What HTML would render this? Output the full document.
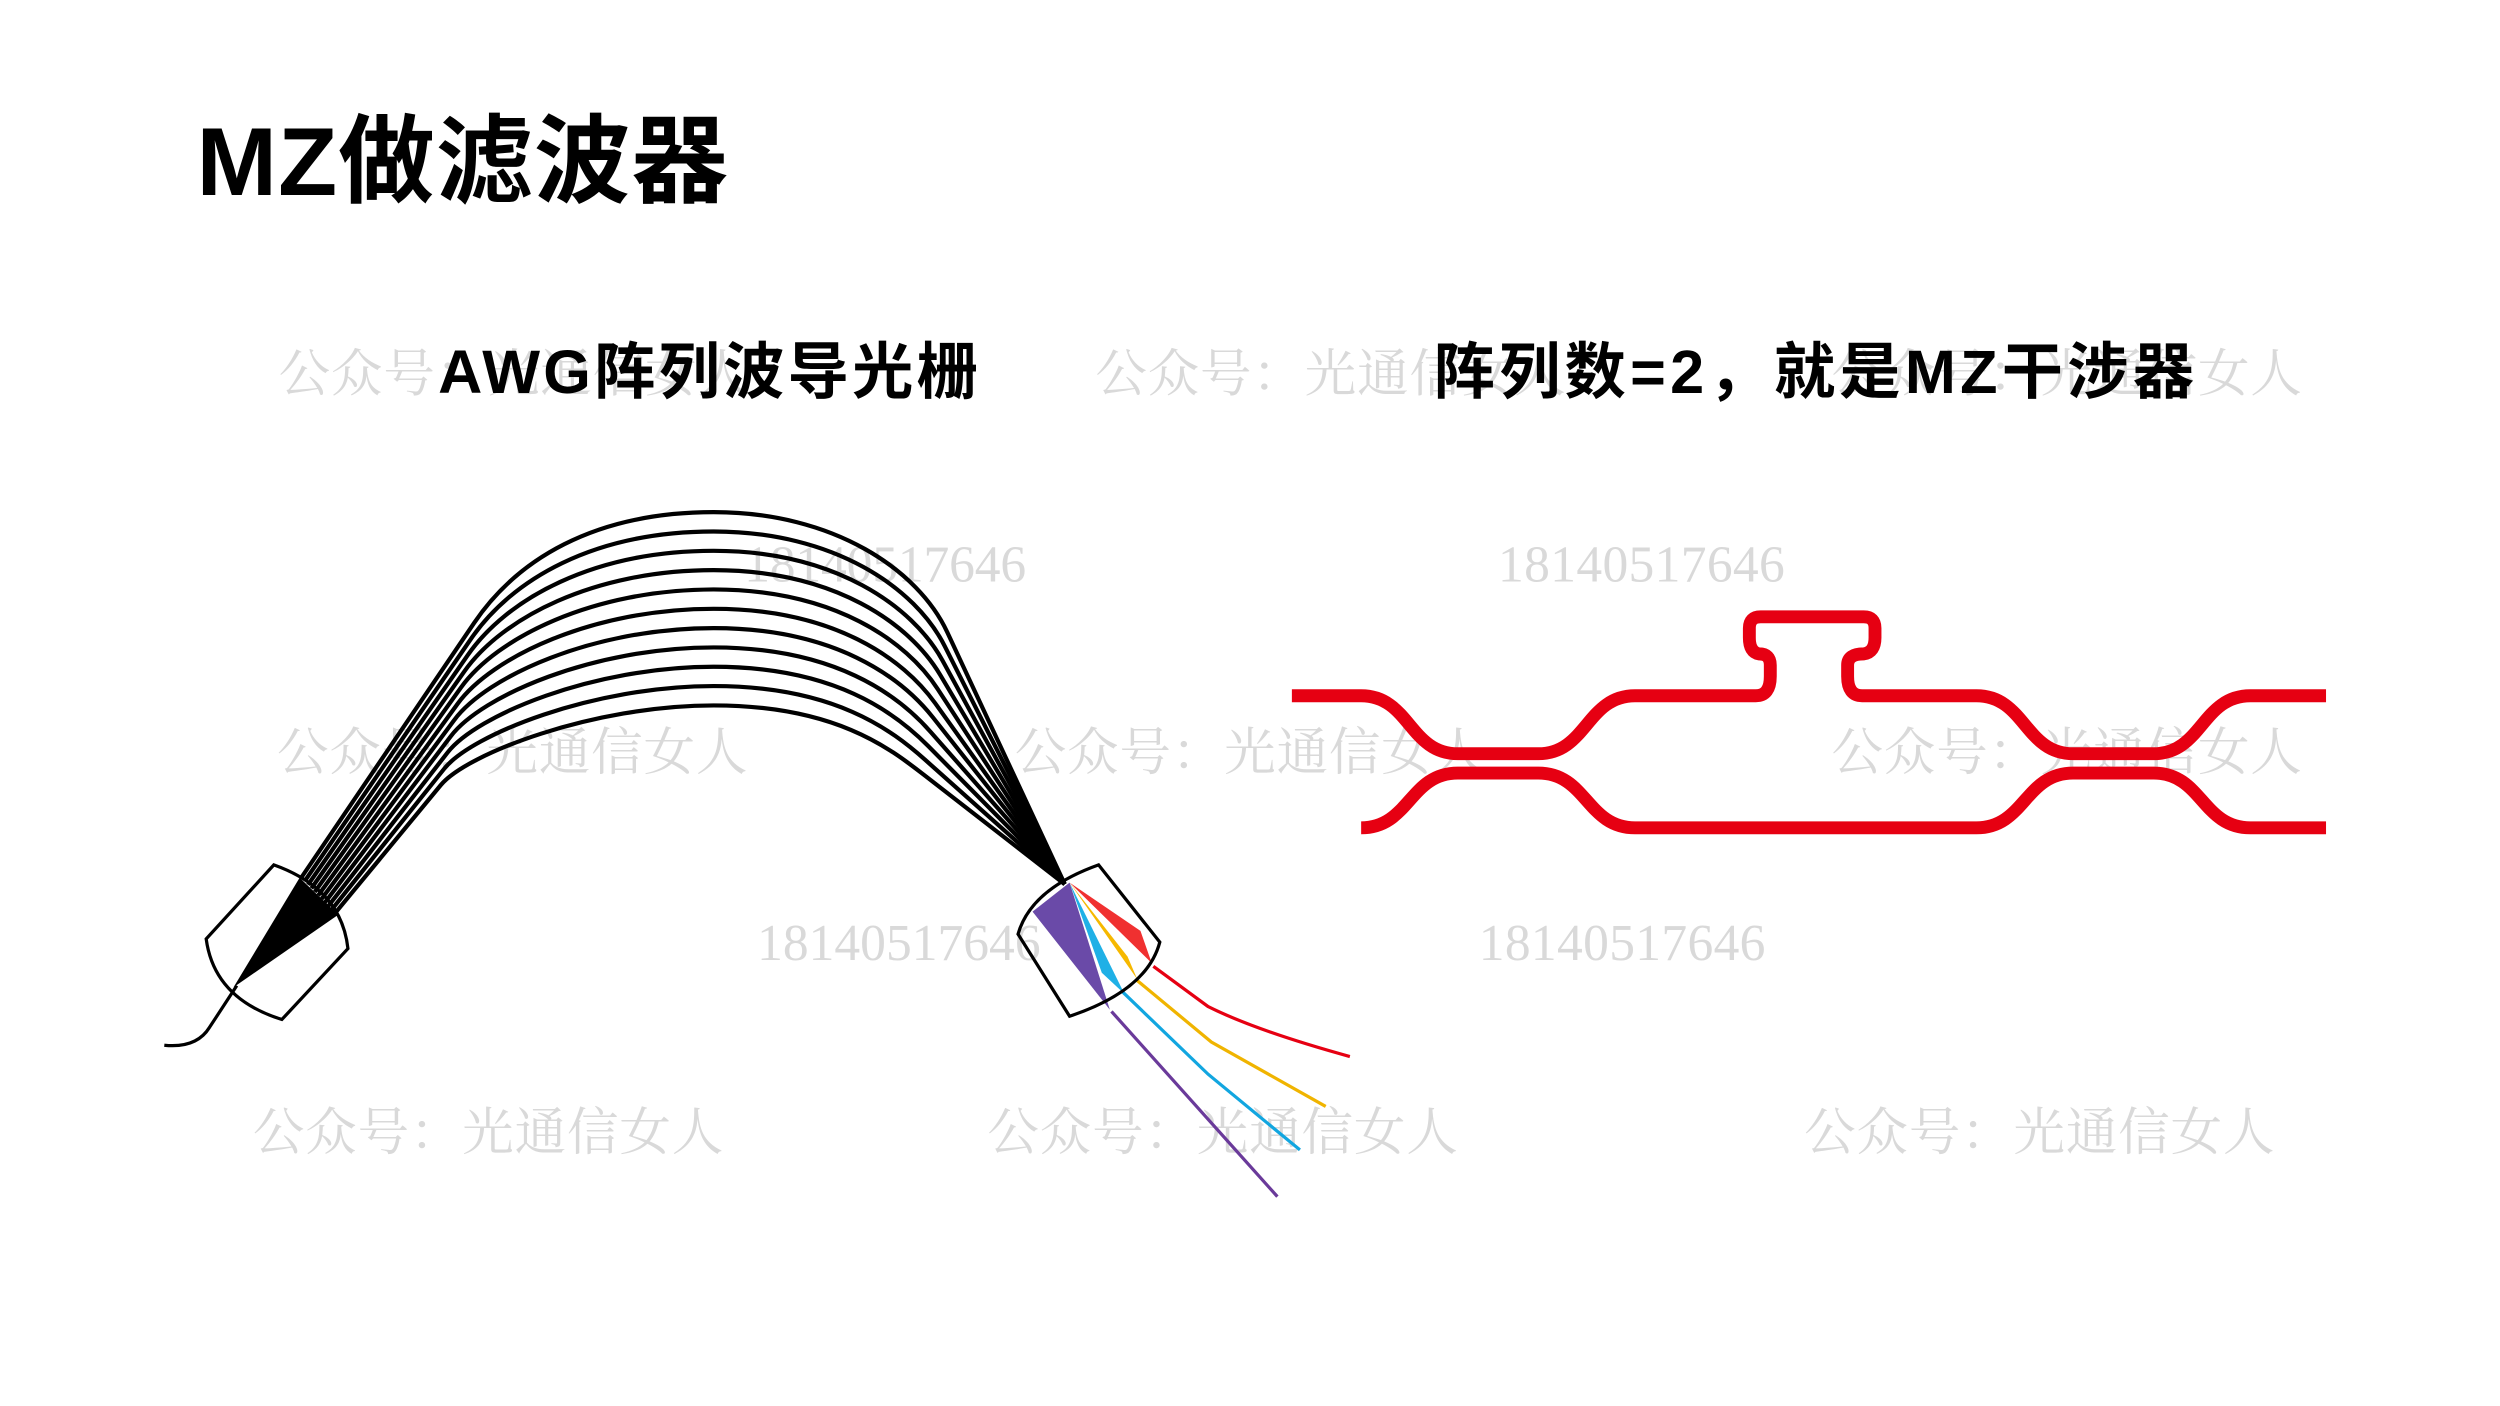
<!DOCTYPE html>
<html><head><meta charset="utf-8"><style>
html,body{margin:0;padding:0;background:#fff;}
svg{display:block;}
.wm{fill:#d9d9d9;font-family:"Liberation Serif","Noto Serif CJK SC",serif;font-size:32px;}
</style></head><body>
<svg id="s" width="2500" height="1406" viewBox="0 0 1552 873" preserveAspectRatio="none" xmlns="http://www.w3.org/2000/svg">
<rect width="1552" height="873" fill="#fff"/>
<g class="wm">
<text x="173" y="243" textLength="292">公众号：光通信女人</text>
<text x="680" y="243" textLength="292">公众号：光通信女人</text>
<text x="1137" y="243" textLength="292">公众号：光通信女人</text>
<text x="172" y="478" textLength="292">公众号：光通信女人</text>
<text x="630" y="478" textLength="292">公众号：光通信女人</text>
<text x="1137" y="478" textLength="292">公众号：光通信女人</text>
<text x="157" y="714" textLength="292">公众号：光通信女人</text>
<text x="613" y="714" textLength="292">公众号：光通信女人</text>
<text x="1120" y="714" textLength="292">公众号：光通信女人</text>
<text x="462" y="361" textLength="175">18140517646</text>
<text x="930" y="361" textLength="178">18140517646</text>
<text x="470" y="596" textLength="176">18140517646</text>
<text x="918" y="596" textLength="178">18140517646</text>
</g>
<text x="122" y="121" font-family="Liberation Sans,'Noto Sans CJK SC',sans-serif" font-weight="bold" font-size="60" textLength="330" fill="#000">MZ做滤波器</text>
<text x="272" y="244" font-family="Liberation Sans,'Noto Sans CJK SC',sans-serif" font-weight="bold" font-size="38" textLength="335" fill="#000">AWG阵列波导光栅</text>
<text x="890" y="244" font-family="Liberation Sans,'Noto Sans CJK SC',sans-serif" font-weight="bold" font-size="38" textLength="472" fill="#000">阵列数=2，就是MZ干涉器</text>

<!-- MZ -->
<g fill="none" stroke="#e60012" stroke-width="8">
<path d="M802 432 H845 C875 432 875 468 905 468 H955 C985 468 985 432 1015 432 H1090 Q1099 432 1099 420 V413 Q1099 406 1092 406 Q1086 405 1086 396 V390 Q1086 383 1093 383 H1157 Q1164 383 1164 390 V396 Q1164 405 1157 406 Q1147 406 1147 413 V420 Q1147 432 1156 432 H1227 C1257 432 1257 468 1287 468 H1337 C1367 468 1367 432 1397 432 H1444"/>
<path d="M845 514 C875 514 875 480 905 480 H955 C985 480 985 514 1015 514 H1227 C1257 514 1257 480 1287 480 H1337 C1367 480 1367 514 1397 514 H1444"/>
</g>

<!-- AWG -->
<g id="arcs" fill="none" stroke="#000" stroke-width="2.6"></g>
<polygon points="145,613 186,545 210,568" fill="#000"/>
<path d="M147 612 L130 638 Q122 651 102 649" fill="none" stroke="#000" stroke-width="2"/>
<path d="M170 537 L128 583 Q133 620 175 633 L216 589 Q212 552 170 537 Z" fill="none" stroke="#000" stroke-width="2"/>
<!-- right fan -->
<polygon points="664,548 708,578 715,598" fill="#f03030"/>
<polygon points="664,548 700,594 706,608" fill="#f6b800"/>
<polygon points="664,548 684,604 698,617" fill="#1fb0e6"/>
<polygon points="664,548 641,566 689,627" fill="#6a4aa8"/>
<g fill="none" stroke-width="2">
<path d="M716 600 L750 625 Q780 640 838 656" stroke="#e60012"/>
<path d="M705 608 L752 647 L823 687" stroke="#f0b400"/>
<path d="M697 616 L750 667 L807 714" stroke="#12a6e0"/>
<path d="M690 628 L793 743" stroke="#6a3a9a"/>
</g>
<path d="M632 580 Q640 552 682 537 L720 585 Q712 615 664 631 Z" fill="none" stroke="#000" stroke-width="2"/>
</svg>
<script>
var g=document.getElementById('arcs'),s='';
function lerp(p,q,k){return [p[0]+(q[0]-p[0])*k,p[1]+(q[1]-p[1])*k];}
function f(p){return p[0].toFixed(1)+' '+p[1].toFixed(1);}
for(var i=0;i<11;i++){var t=i/10;
var P0=[187+21*t,545+22*t],A=[318-30*t,352+118*t],T=[443,318+120*t],B=[572-18*t,358+108*t],E=[661,549];
var a1=lerp(P0,A,0.82),b1=lerp(E,B,0.82);
var c1=lerp(P0,A,1.02),c2=[T[0]-75,T[1]];
var d1=[T[0]+75,T[1]],d2=lerp(E,B,1.02);
s+='<path d="M'+f(P0)+' L'+f(a1)+' C'+f(c1)+' '+f(c2)+' '+f(T)+' C'+f(d1)+' '+f(d2)+' '+f(b1)+' L'+f(E)+'"/>';}
g.innerHTML=s;
</script>
</body></html>
